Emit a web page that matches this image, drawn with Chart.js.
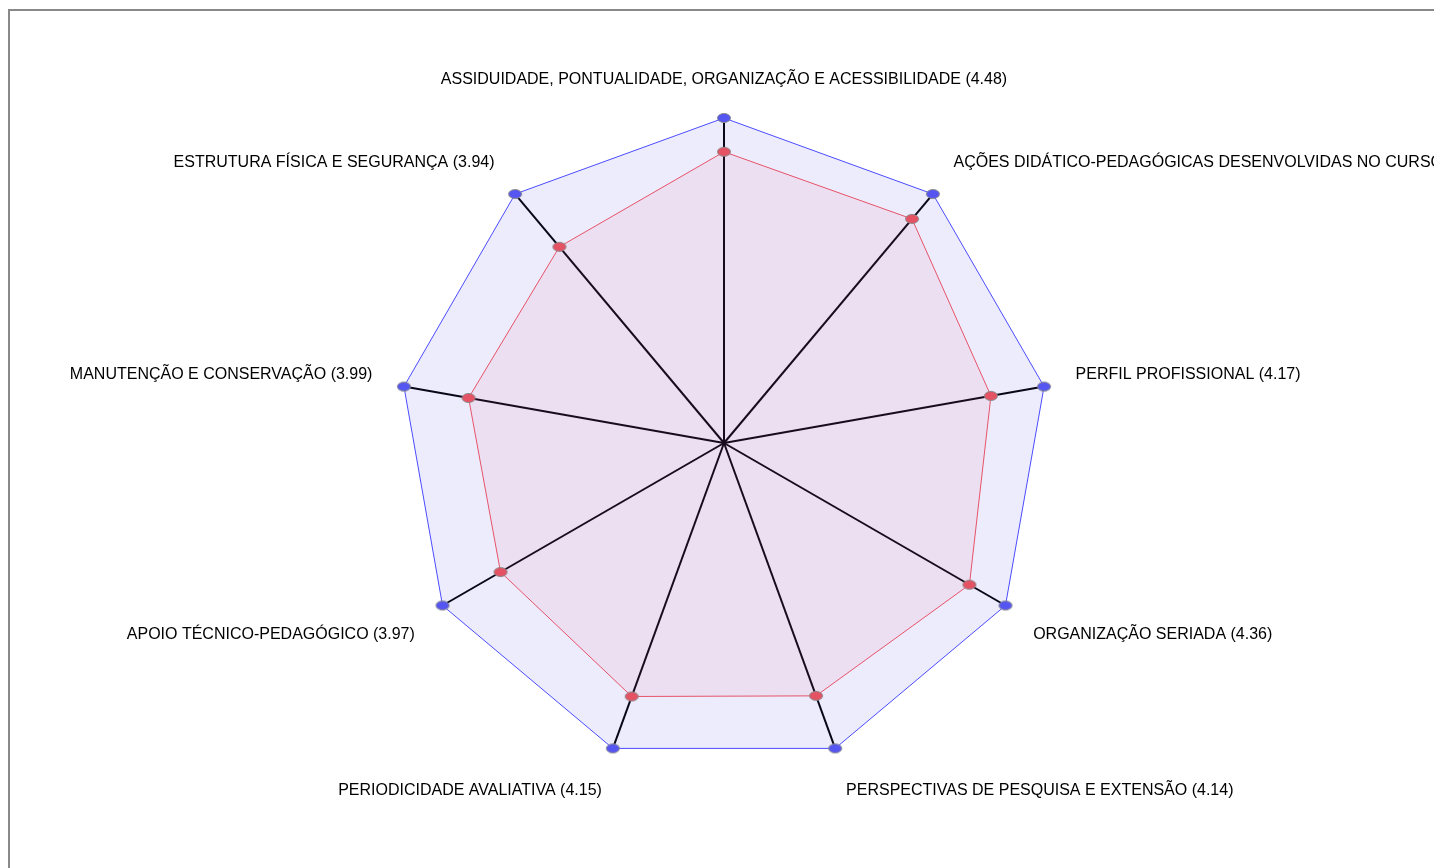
<!DOCTYPE html>
<html lang="pt-BR">
<head>
<meta charset="utf-8">
<title>Avaliação institucional</title>
<script src="https://cdn.jsdelivr.net/npm/chart.js@4.4.1/dist/chart.umd.min.js"></script>
<style>
  html, body { margin: 0; padding: 0; overflow: hidden; background: #fff; }
  #moldura {
    position: absolute;
    left: 8px;
    top: 9px;
    width: 1600px;
    height: 1000px;
    border: 2px solid #888;
    overflow: hidden;
  }
  #radar { position: absolute; left: -136px; top: 0; }
</style>
</head>
<body>
<div id="moldura">
  <canvas id="radar" width="1700" height="907"></canvas>
</div>
<script>
// Dimensões avaliadas e médias obtidas
const dimensoes = [
    "ASSIDUIDADE, PONTUALIDADE, ORGANIZAÇÃO E ACESSIBILIDADE",
    "AÇÕES DIDÁTICO-PEDAGÓGICAS DESENVOLVIDAS NO CURSO",
    "PERFIL PROFISSIONAL",
    "ORGANIZAÇÃO SERIADA",
    "PERSPECTIVAS DE PESQUISA E EXTENSÃO",
    "PERIODICIDADE AVALIATIVA",
    "APOIO TÉCNICO-PEDAGÓGICO",
    "MANUTENÇÃO E CONSERVAÇÃO",
    "ESTRUTURA FÍSICA E SEGURANÇA"
];
const medias = [4.48, 4.50, 4.17, 4.36, 4.14, 4.15, 3.97, 3.99, 3.94];
const notaMaxima = [5, 5, 5, 5, 5, 5, 5, 5, 5];

// rótulo de cada eixo leva a média entre parênteses
const rotulos = dimensoes.map((nome, i) => nome + " (" + medias[i].toFixed(2) + ")");

// marcador oval com contorno cinza
function criarMarcador(cor) {
    const c = document.createElement("canvas");
    c.width = 16;
    c.height = 12;
    const g = c.getContext("2d");
    g.beginPath();
    g.ellipse(8, 6, 6.5, 4.5, 0, 0, Math.PI * 2);
    g.fillStyle = cor;
    g.fill();
    g.strokeStyle = "#8a8a8a";
    g.lineWidth = 1;
    g.stroke();
    return c;
}

// escreve os nomes dos eixos fora do polígono, um pouco abaixo da posição padrão
const rotulosEixos = {
    id: "rotulosEixos",
    afterDraw(chart) {
        const escala = chart.scales.r;
        const c = chart.ctx;
        const nomes = chart.data.labels;
        const meiaLinha = 9.6;
        c.save();
        c.font = "16px 'Liberation Sans', Arial, sans-serif";
        c.fillStyle = "#000";
        c.textBaseline = "middle";
        nomes.forEach((texto, i) => {
            const p = escala.getPointPosition(i, escala.drawingArea + 32);
            const graus = Math.round(i * 360 / nomes.length);
            let y = p.y;
            if (graus < 90 || graus > 270) y -= meiaLinha;
            else if (graus > 90 && graus < 270) y += meiaLinha;
            if (graus === 0 || graus === 180) c.textAlign = "center";
            else c.textAlign = graus < 180 ? "left" : "right";
            c.fillText(texto, p.x, y + 3);
        });
        c.restore();
    }
};

const ctx = document.getElementById("radar");
new Chart(ctx, {
    type: "radar",
    data: {
        labels: rotulos,
        datasets: [{
            label: "Média",
            data: medias,
            borderColor: "rgb(232, 82, 104)",
            backgroundColor: "rgba(215, 60, 95, 0.08)",
            borderWidth: 1,
            fill: true,
            pointStyle: criarMarcador("rgb(228, 82, 100)")
        }, {
            label: "Máximo",
            data: notaMaxima,
            borderColor: "rgb(75, 75, 255)",
            backgroundColor: "rgba(70, 70, 235, 0.1)",
            borderWidth: 1,
            fill: true,
            pointStyle: criarMarcador("rgb(85, 85, 242)")
        }]
    },
    options: {
        responsive: false,
        animation: false,
        layout: {
            padding: { top: 107, bottom: 150, left: 0, right: 0 }
        },
        elements: {
            line: { tension: 0 }
        },
        plugins: {
            legend: { display: false },
            tooltip: { enabled: false }
        },
        scales: {
            r: {
                min: 0,
                max: 5,
                ticks: { display: false },
                grid: { display: false },
                angleLines: {
                    display: true,
                    color: "#000",
                    lineWidth: 2
                },
                pointLabels: { display: false }
            }
        }
    },
    plugins: [rotulosEixos]
});
</script>
</body>
</html>
